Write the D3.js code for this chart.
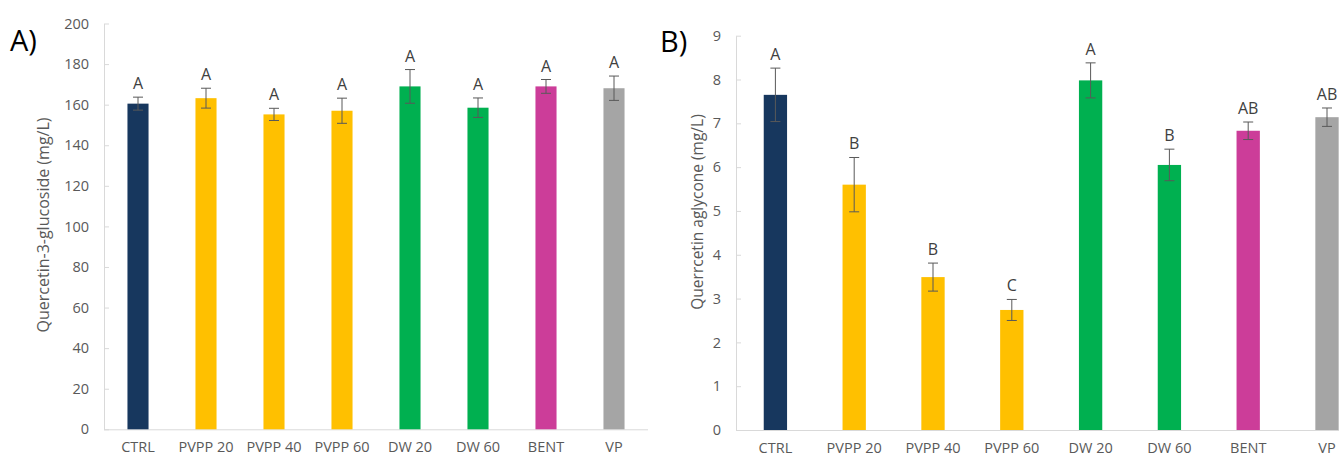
<!DOCTYPE html>
<html>
<head>
<meta charset="utf-8">
<script src="https://cdn.jsdelivr.net/npm/d3@7"></script>
<style>
  html, body { margin: 0; padding: 0; background: #fff; overflow: hidden; }
  svg { display: block; font-family: "Open Sans", "Noto Sans", sans-serif; }
</style>
</head>
<body>
<svg id="chart" width="1339" height="458"></svg>
<script>
// Treatments (shared by both panels)
const categories = ["CTRL", "PVPP 20", "PVPP 40", "PVPP 60", "DW 20", "DW 60", "BENT", "VP"];
const barColors = ["#17375E", "#FFC000", "#FFC000", "#FFC000", "#00B050", "#00B050", "#CC3D99", "#A5A5A5"];

// Panel A: quercetin-3-glucoside
const glucosideMean = [160.5, 163.2, 155.2, 157.0, 169.0, 158.5, 169.0, 168.1];
const glucosideErr  = [3.2, 4.9, 3.0, 6.2, 8.3, 4.8, 3.4, 6.0];
const glucosideLetters = ["A", "A", "A", "A", "A", "A", "A", "A"];
const glucosideTicks = [0, 20, 40, 60, 80, 100, 120, 140, 160, 180, 200];

// Panel B: quercetin aglycone
const aglyconeMean = [7.65, 5.60, 3.49, 2.74, 7.98, 6.05, 6.83, 7.14];
const aglyconeErr  = [0.61, 0.62, 0.32, 0.24, 0.40, 0.36, 0.20, 0.21];
const aglyconeLetters = ["A", "B", "B", "C", "A", "B", "AB", "AB"];
const aglyconeTicks = [0, 1, 2, 3, 4, 5, 6, 7, 8, 9];

const svg = d3.select("#chart");

function panel(cfg) {
  const g = svg.append("g");
  const x = d3.scaleBand()
    .domain(categories)
    .range([cfg.x0, cfg.x1])
    .paddingInner(cfg.pad)
    .paddingOuter(cfg.pad / 2);
  const y = d3.scaleLinear().domain([0, cfg.max]).range([cfg.yBottom, cfg.yTop]);

  // y axis: light line with inward ticks
  const yAxis = g.append("g")
    .attr("transform", `translate(${cfg.x0},0)`)
    .call(d3.axisLeft(y).tickValues(cfg.ticks).tickSizeInner(-5).tickSizeOuter(0).tickPadding(15));
  yAxis.select(".domain").attr("stroke", "#D9D9D9");
  yAxis.selectAll(".tick line").attr("stroke", "#D9D9D9");
  yAxis.selectAll(".tick text").attr("fill", "#595959").attr("font-size", 14.5)
    .attr("font-family", "'Open Sans', sans-serif");

  // x axis baseline and category labels
  const xAxis = g.append("g")
    .attr("transform", `translate(0,${cfg.yBottom})`)
    .call(d3.axisBottom(x).tickSize(0).tickPadding(12.5));
  xAxis.select(".domain").attr("stroke", "#D9D9D9").attr("d", `M${cfg.x0},0.5H${cfg.x1}`);
  xAxis.selectAll(".tick text").attr("fill", "#595959").attr("font-size", 14.5)
    .attr("font-family", "'Open Sans', sans-serif");

  // bars
  g.selectAll("rect.bar").data(categories).join("rect")
    .attr("class", "bar")
    .attr("x", d => x(d))
    .attr("width", x.bandwidth())
    .attr("y", (d, i) => y(cfg.mean[i]))
    .attr("height", (d, i) => cfg.yBottom - y(cfg.mean[i]))
    .attr("fill", (d, i) => barColors[i]);

  // error bars
  const eb = g.selectAll("g.err").data(categories).join("g").attr("class", "err")
    .attr("stroke", "#595959").attr("stroke-width", 1);
  const cx = d => x(d) + x.bandwidth() / 2;
  eb.append("line")
    .attr("x1", cx).attr("x2", cx)
    .attr("y1", (d, i) => y(cfg.mean[i] + cfg.err[i]))
    .attr("y2", (d, i) => y(cfg.mean[i] - cfg.err[i]));
  eb.append("line")
    .attr("x1", d => cx(d) - 5).attr("x2", d => cx(d) + 5)
    .attr("y1", (d, i) => y(cfg.mean[i] + cfg.err[i]))
    .attr("y2", (d, i) => y(cfg.mean[i] + cfg.err[i]));
  eb.append("line")
    .attr("x1", d => cx(d) - 5).attr("x2", d => cx(d) + 5)
    .attr("y1", (d, i) => y(cfg.mean[i] - cfg.err[i]))
    .attr("y2", (d, i) => y(cfg.mean[i] - cfg.err[i]));

  // significance letters
  g.selectAll("text.sig").data(categories).join("text")
    .attr("class", "sig")
    .attr("x", cx)
    .attr("y", (d, i) => y(cfg.mean[i] + cfg.err[i]) - 8)
    .attr("text-anchor", "middle")
    .attr("font-size", 16)
    .attr("fill", "#404040")
    .text((d, i) => cfg.letters[i]);

  // y axis title
  g.append("text")
    .attr("transform", `translate(${cfg.titleX},${cfg.titleY}) rotate(-90)`)
    .attr("text-anchor", "middle")
    .attr("font-size", cfg.titleSize)
    .attr("fill", "#595959")
    .text(cfg.title);

  // panel tag
  g.append("text")
    .attr("x", cfg.tagX).attr("y", cfg.tagY)
    .attr("font-size", 29)
    .attr("fill", "#000")
    .text(cfg.tag);
}

panel({
  x0: 104, x1: 648, yTop: 23.5, yBottom: 429.3, max: 200, pad: 0.69,
  mean: glucosideMean, err: glucosideErr, letters: glucosideLetters, ticks: glucosideTicks,
  title: "Quercetin-3-glucoside (mg/L)", titleX: 49, titleY: 225, titleSize: 16,
  tag: "A)", tagX: 10, tagY: 51
});

panel({
  x0: 736, x1: 1366.4, yTop: 35.7, yBottom: 430, max: 9, pad: 0.704,
  mean: aglyconeMean, err: aglyconeErr, letters: aglyconeLetters, ticks: aglyconeTicks,
  title: "Querrcetin aglycone (mg/L)", titleX: 703, titleY: 212, titleSize: 15.5,
  tag: "B)", tagX: 660, tagY: 52
});
</script>
</body>
</html>
